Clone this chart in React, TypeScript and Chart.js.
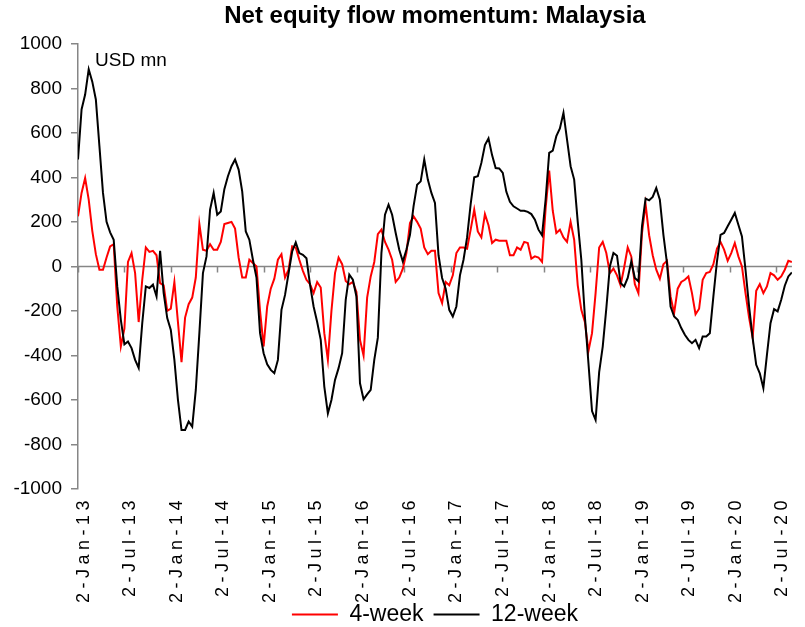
import React, { useEffect, useRef } from 'react';
import { Chart, registerables } from 'chart.js';

Chart.register(...registerables);

// ---------- Text ----------
const TITLE = 'Net equity flow momentum: Malaysia';
const UNIT_LABEL = 'USD mn';
const SERIES_NAMES = ['4-week', '12-week'];

// ---------- Axis ----------
const START_DATE = '2013-01-02';
const STEP_DAYS = 14; // one reading every two weeks
const X_TICK_LABELS = [
  '2-Jan-13', '2-Jul-13', '2-Jan-14', '2-Jul-14', '2-Jan-15', '2-Jul-15',
  '2-Jan-16', '2-Jul-16', '2-Jan-17', '2-Jul-17', '2-Jan-18', '2-Jul-18',
  '2-Jan-19', '2-Jul-19', '2-Jan-20', '2-Jul-20',
];
const Y_MIN = -1000;
const Y_MAX = 1000;
const Y_STEP = 200;

// ---------- Series (USD mn, fortnightly readings from 2-Jan-13) ----------
const fourWeek = [
  225, 330, 397, 300, 160, 55, -15, -15, 40, 90,
  100, -180, -360, -280, 20, 60, -30, -250, -60, 85,
  65, 70, 50, -75, -85, -200, -190, -70, -250, -430,
  -230, -170, -140, -50, 190, 75, 70, 100, 75, 75,
  110, 190, 195, 200, 170, 40, -50, -50, 30, 15,
  0, -200, -360, -180, -100, -55, 30, 55, -50, -15,
  90, 85, 30, -20, -60, -80, -120, -70, -95, -300,
  -420, -200, -30, 40, 10, -65, -80, -70, -115, -330,
  -400, -140, -45, 20, 145, 165, 110, 75, 30, -70,
  -50, -10, 60, 195, 225, 200, 170, 85, 55, 70,
  70, -120, -165, -70, -85, -40, 60, 85, 85, 80,
  165, 255, 157, 130, 235, 185, 105, 120, 115, 115,
  115, 50, 50, 85, 75, 110, 105, 35, 45, 40,
  20, 260, 430, 250, 150, 165, 130, 110, 200, 120,
  -85, -195, -250, -380, -300, -120, 85, 110, 60, -30,
  -10, -40, -85, -5, 85, 45, -80, -120, 150, 280,
  140, 50, -15, -55, 10, 25, -135, -210, -100, -70,
  -60, -45, -120, -215, -190, -60, -30, -25, 10, 80,
  110, 75, 25, 60, 105, 45, 0, -120, -230, -320,
  -110, -80, -120, -90, -30, -40, -60, -45, -15, 25,
  20,
];

const twelveWeek = [
  480, 705, 772, 886, 830, 750, 540, 330, 200, 153,
  120, -90, -240, -350, -337, -367, -420, -456, -255, -90,
  -97, -82, -135, 70, -120, -232, -285, -420, -600, -735,
  -735, -697, -720, -555, -300, -30, 45, 255, 330, 232,
  247, 347, 405, 450, 480, 435, 337, 157, 120, 30,
  -50, -300, -390, -440, -465, -480, -420, -195, -128, -30,
  67, 108, 60, 52, 37, -82, -180, -250, -330, -540,
  -660, -600, -510, -457, -390, -150, -37, -60, -135, -525,
  -597, -575, -555, -420, -320, 60, 232, 277, 232, 150,
  75, 22, 75, 142, 270, 367, 382, 480, 390, 330,
  285, 50, -52, -100, -195, -225, -180, -40, 30, 130,
  280, 400, 405, 465, 545, 575, 500, 442, 440, 420,
  335, 290, 270, 260, 250, 250, 245, 235, 210, 165,
  140, 300, 510, 520, 585, 620, 690, 570, 450, 390,
  200, 30, -225, -435, -650, -690, -475, -360, -190, 0,
  60, 48, -75, -90, -52, 22, -52, -67, 180, 305,
  297, 312, 352, 300, 142, 15, -180, -225, -240, -277,
  -307, -330, -345, -330, -367, -315, -315, -300, -135, 22,
  142, 150, 180, 210, 240, 187, 135, -15, -180, -322,
  -442, -480, -547, -397, -255, -192, -202, -150, -87, -45,
  -27,
];

// ---------- Styling ----------
const FONT = '"Liberation Sans", Arial, sans-serif';
const AXIS_COLOR = '#868686';
const RED = '#FF0000';
const BLACK = '#000000';
const X_LABEL_SPACING = 4.5;
const X_LABEL_SHIFT = 6;

const MONTHS = ['Jan', 'Feb', 'Mar', 'Apr', 'May', 'Jun', 'Jul', 'Aug', 'Sep', 'Oct', 'Nov', 'Dec'];
const DAY_MS = 86400000;
const startMs = Date.parse(START_DATE + 'T00:00:00Z');
const labelToDay = (label: string) => {
  const [d, m, y] = label.split('-');
  const ms = Date.UTC(2000 + Number(y), MONTHS.indexOf(m), Number(d));
  return Math.round((ms - startMs) / DAY_MS);
};
const X_TICK_DAYS = X_TICK_LABELS.map(labelToDay);
const toPoints = (arr: number[]) => arr.map((v, i) => ({ x: i * STEP_DAYS, y: v }));
const LAST_DAY = (Math.max(fourWeek.length, twelveWeek.length) - 1) * STEP_DAYS;

const decorPlugin = {
  id: 'decor',
  beforeDraw(chart: any) {
    const xs = chart.scales.x;
    if (xs && !xs._lsWrapped) {
      const orig = xs.drawLabels.bind(xs);
      // let the spaced-out rotated labels run past the axis box without clipping
      xs._computeLabelArea = () => undefined;
      xs.drawLabels = (area: any) => {
        const ctx = chart.ctx as any;
        ctx.save();
        ctx.letterSpacing = X_LABEL_SPACING + 'px';
        ctx.translate(X_LABEL_SHIFT, 0);
        orig(area);
        ctx.restore();
      };
      xs._lsWrapped = true;
    }
  },
  beforeDatasetsDraw(chart: any) {
    const { ctx, chartArea, scales } = chart;
    const x = scales.x;
    const y = scales.y;
    const y0 = y.getPixelForValue(0);
    ctx.save();
    ctx.strokeStyle = AXIS_COLOR;
    ctx.lineWidth = 1.5;
    ctx.beginPath();
    ctx.moveTo(chartArea.left, y0);
    ctx.lineTo(chartArea.right, y0);
    for (const t of x.ticks) {
      const px = Math.round(x.getPixelForValue(t.value)) + 0.5;
      ctx.moveTo(px, y0);
      ctx.lineTo(px, y0 + 6);
    }
    ctx.stroke();
    ctx.fillStyle = '#000';
    ctx.font = `19px ${FONT}`;
    ctx.textBaseline = 'middle';
    ctx.textAlign = 'left';
    ctx.fillText(UNIT_LABEL, chartArea.left + 17, chartArea.top + 17);
    ctx.restore();
  },
};

export default function App() {
  const canvasRef = useRef<HTMLCanvasElement | null>(null);

  useEffect(() => {
    if (!canvasRef.current) return;
    Chart.defaults.font.family = FONT;
    Chart.defaults.color = '#000';
    const chart = new Chart(canvasRef.current, {
      type: 'line',
      data: {
        datasets: [
          {
            label: SERIES_NAMES[0],
            data: toPoints(fourWeek),
            borderColor: RED,
            backgroundColor: RED,
            borderWidth: 2,
            pointRadius: 0,
            tension: 0,
            order: 2,
          },
          {
            label: SERIES_NAMES[1],
            data: toPoints(twelveWeek),
            borderColor: BLACK,
            backgroundColor: BLACK,
            borderWidth: 2,
            pointRadius: 0,
            tension: 0,
            order: 1,
          },
        ],
      },
      options: {
        animation: false,
        responsive: true,
        maintainAspectRatio: false,
        layout: { padding: { left: 0, right: 2, top: 0, bottom: -9 } },
        plugins: {
          title: {
            display: true,
            text: TITLE,
            fullSize: false,
            color: '#000',
            font: { size: 24, weight: 'bold', family: FONT },
            padding: { top: 2, bottom: 13 },
          },
          legend: {
            position: 'bottom',
            fullSize: false,
            labels: {
              color: '#000',
              font: { size: 23, family: FONT },
              usePointStyle: true,
              pointStyle: 'line',
              pointStyleWidth: 46,
              padding: 10,
              sort: (a: any, b: any) => a.datasetIndex - b.datasetIndex,
            },
          },
          tooltip: { enabled: false },
        },
        scales: {
          x: {
            type: 'linear',
            min: 0,
            max: LAST_DAY,
            afterBuildTicks: (s: any) => {
              s.ticks = X_TICK_DAYS.map((v) => ({ value: v }));
            },
            afterFit: (s: any) => {
              s.height = 104;
            },
            border: { display: false },
            grid: { display: false, drawTicks: false },
            ticks: {
              autoSkip: false,
              minRotation: 90,
              maxRotation: 90,
              padding: 7,
              color: '#000',
              font: { size: 18, family: FONT },
              callback: (_v: any, i: number) => X_TICK_LABELS[i],
            },
          },
          y: {
            min: Y_MIN,
            max: Y_MAX,
            afterFit: (s: any) => {
              s.width = 78;
            },
            border: { display: true, color: AXIS_COLOR, width: 1.5 },
            grid: {
              drawOnChartArea: false,
              drawTicks: true,
              tickLength: 7,
              color: AXIS_COLOR,
              lineWidth: 1.5,
            },
            ticks: {
              stepSize: Y_STEP,
              padding: 9,
              color: '#000',
              font: { size: 19, family: FONT },
              callback: (v: any) => String(v),
            },
          },
        },
      },
      plugins: [decorPlugin],
    } as any);
    return () => chart.destroy();
  }, []);

  return (
    <div style={{ position: 'absolute', left: 0, top: 0, width: 805, height: 627, background: '#fff' }}>
      <canvas ref={canvasRef} />
    </div>
  );
}
